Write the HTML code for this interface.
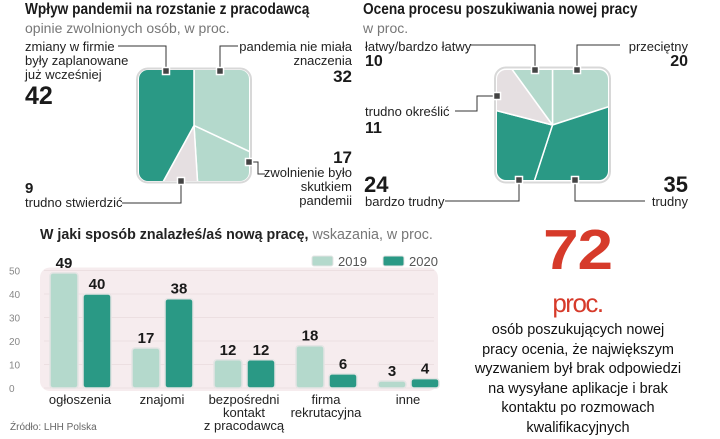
<!DOCTYPE html>
<html><head><meta charset="utf-8">
<style>
body{margin:0;width:720px;height:435px;background:#fff;overflow:hidden;font-family:"Liberation Sans",sans-serif;color:#222;position:relative}
.t{position:absolute;white-space:nowrap;line-height:1}
.h{font-weight:bold;font-size:16px;color:#1a1a1a;transform:scaleX(0.855);transform-origin:left top}
.s{font-size:14px;color:#777}
.l{font-size:13px;color:#222}
.n{font-weight:bold;color:#1a1a1a}
.r{text-align:right}
</style></head><body>
<div class="t h" style="left:25px;top:2px">Wpływ pandemii na rozstanie z pracodawcą</div>
<div class="t s" style="left:25px;top:21px">opinie zwolnionych osób, w proc.</div>
<div class="t h" style="left:363px;top:2px">Ocena procesu poszukiwania nowej pracy</div>
<div class="t s" style="left:363px;top:21px">w proc.</div>

<div class="t l" style="left:25px;top:40px;line-height:14px">zmiany w firmie<br>były zaplanowane<br>już wcześniej</div>
<div class="t n" style="left:25px;top:84px;font-size:25px">42</div>
<div class="t l r" style="right:368px;top:40px;line-height:14px">pandemia nie miała<br>znaczenia</div>
<div class="t n r" style="right:368px;top:68px;font-size:17px">32</div>
<div class="t n r" style="right:368px;top:149px;font-size:17px">17</div>
<div class="t l r" style="right:368px;top:166px;line-height:14px">zwolnienie było<br>skutkiem<br>pandemii</div>
<div class="t n" style="left:25px;top:181px;font-size:15px">9</div>
<div class="t l" style="left:25px;top:196px">trudno stwierdzić</div>

<div class="t l" style="left:365px;top:40px">łatwy/bardzo łatwy</div>
<div class="t n" style="left:365px;top:54px;font-size:16px">10</div>
<div class="t l r" style="right:32px;top:40px">przeciętny</div>
<div class="t n r" style="right:32px;top:54px;font-size:16px">20</div>
<div class="t l" style="left:365px;top:105px">trudno określić</div>
<div class="t n" style="left:365px;top:121px;font-size:16px">11</div>
<div class="t n" style="left:364px;top:174px;font-size:22px">24</div>
<div class="t l" style="left:365px;top:195px">bardzo trudny</div>
<div class="t n r" style="right:32px;top:174px;font-size:22px">35</div>
<div class="t l r" style="right:32px;top:195px">trudny</div>

<svg id="pies" width="720" height="220" style="position:absolute;left:0;top:0">
<defs>
<clipPath id="cl"><rect x="139" y="70" width="110" height="111" rx="9"/></clipPath>
<clipPath id="cr"><rect x="497" y="70" width="111" height="110" rx="9"/></clipPath>
</defs>
<g fill="none" stroke="#333" stroke-width="1">
<polyline points="118,46 166,46 166,71"/>
<polyline points="238,46 220,46 220,71"/>
<polyline points="249,162 258,162 258,174 265,174"/>
<polyline points="122,203 181,203 181,181"/>
<polyline points="470,45 535,45 535,70"/>
<polyline points="620,45 577,45 577,70"/>
<polyline points="455,111 477,111 477,96 497,96"/>
<polyline points="445,201 519,201 519,180"/>
<polyline points="645,201 575,201 575,180"/>
</g>
</svg>

<div class="t" style="left:40px;top:227px;font-size:15px;transform:scaleX(0.95);transform-origin:left top"><b>W jaki sposób znalazłeś/aś nową pracę,</b> <span style="color:#777">wskazania, w proc.</span></div>
<svg id="bars" width="470" height="215" style="position:absolute;left:0;top:220px"></svg>
<div class="t" style="left:10px;top:423px;font-size:10px;color:#666">Źródło: LHH Polska</div>

<div class="t" style="left:490px;top:222px;width:175px;text-align:center;font-weight:bold;font-size:57px;color:#d63a2a;letter-spacing:-1px;transform:scaleX(1.12)">72</div>
<div class="t" style="left:490px;top:290px;width:175px;text-align:center;font-size:26px;color:#d63a2a;letter-spacing:-1.5px">proc.</div>
<div class="t" style="left:468px;top:321px;width:220px;text-align:center;font-size:14.5px;line-height:19.6px;color:#111">osób poszukujących nowej<br>pracy ocenia, że największym<br>wyzwaniem był brak odpowiedzi<br>na wysyłane aplikacje i brak<br>kontaktu po rozmowach<br>kwalifikacyjnych</div>

<script>
const NS="http://www.w3.org/2000/svg";
// left pie data (clockwise from top)
const leftValues=[32,17,9,42];
const leftColors=["#b4d9cc","#b4d9cc","#e5dfe1","#2a9985"];
// right pie data (clockwise from top)
const rightValues=[20,35,24,11,10];
const rightColors=["#b4d9cc","#2a9985","#2a9985","#e5dfe1","#b4d9cc"];
// bar chart data
const categories=[["ogłoszenia"],["znajomi"],["bezpośredni","kontakt","z pracodawcą"],["firma","rekrutacyjna"],["inne"]];
const values2019=[49,17,12,18,3];
const values2020=[40,38,12,6,4];
const yTicks=[0,10,20,30,40,50];

function mk(tag,attrs){const e=document.createElementNS(NS,tag);for(const k in attrs)e.setAttribute(k,attrs[k]);return e;}
const pies=document.getElementById('pies');
function sqPoint(cx,cy,h,deg){const a=deg*Math.PI/180;const dx=Math.sin(a),dy=-Math.cos(a);const t=h/Math.max(Math.abs(dx),Math.abs(dy));return [cx+dx*t,cy+dy*t];}
function squarePie(vals,cols,cx,cy,h,clip,prefix){
  const bg=mk('rect',{x:cx-h-2,y:cy-h-2,width:2*h+4,height:2*h+4,rx:11,fill:"#fff",stroke:"#d8d8d8","stroke-width":2});
  
  
  pies.appendChild(bg);
  const g=mk('g',{'clip-path':'url(#'+clip+')'});
  pies.appendChild(g);
  const tot=vals.reduce((a,b)=>a+b,0);let acc=0;
  vals.forEach((v,i)=>{
    const a0=acc/tot*360,a1=(acc+v)/tot*360;acc+=v;
    const pts=[[cx,cy]];
    for(let d=a0;d<a1;d+=1)pts.push(sqPoint(cx,cy,h+20,d));
    pts.push(sqPoint(cx,cy,h+20,a1));
    const p=mk('polygon',{points:pts.map(p=>p.join(',')).join(' '),fill:cols[i],stroke:"#fff","stroke-width":1.5,"stroke-linejoin":"round"});
    
    
    g.appendChild(p);
  });
}
squarePie(leftValues,leftColors,194,125.5,55,'cl','left-pie');
squarePie(rightValues,rightColors,552.5,125,55.5,'cr','right-pie');
[[166,71],[220,71],[249,162],[181,181],[535,70],[577,70],[497,96],[519,180],[575,180]].forEach(([x,y])=>{
  const m=mk('rect',{x:x-3.5,y:y-3.5,width:7,height:7,fill:"#444",stroke:"#fff","stroke-width":1.5});
  
  
  pies.appendChild(m);
});

const bars=document.getElementById('bars');
const OY=220, y0=388-OY, k=2.35;
function Y(v){return y0-v*k;}
function X(i){return 50+i*82;}
const bgR=mk('rect',{x:40,y:Y(50)-3,width:398,height:y0-Y(50)+6,rx:10,fill:"#f6ecee"});


bars.appendChild(bgR);
yTicks.forEach(t=>{
  const ln=mk('line',{x1:44,x2:434,y1:Y(t),y2:Y(t),stroke:"#ecdfe1","stroke-width":1});
  
  
  bars.appendChild(ln);
  const tx=mk('text',{x:9,y:Y(t)+4,'font-size':10,fill:"#888",'font-family':"Liberation Sans, sans-serif"});
  tx.textContent=t;
  
  
  bars.appendChild(tx);
});
function bar(x,v,col,name){
  const r=mk('rect',{x:x,y:Y(v),width:28,height:Math.max(v*k,2),rx:3,fill:col,stroke:"#e4e4e4","stroke-width":1.5});
  
  
  bars.appendChild(r);
  const t=mk('text',{x:x+14,y:Y(v)-5,'text-anchor':'middle','font-size':15,'font-weight':'bold',fill:"#1a1a1a",'font-family':"Liberation Sans, sans-serif"});
  t.textContent=v;
  
  
  bars.appendChild(t);
}
categories.forEach((c,i)=>{
  bar(X(i),values2019[i],"#b4d9cc",'bar-2019-'+i);
  bar(X(i)+33,values2020[i],"#2a9985",'bar-2020-'+i);
  c.forEach((line,j)=>{
    const t=mk('text',{x:X(i)+30,y:y0+16+j*13,'text-anchor':'middle','font-size':13,fill:"#222",'font-family':"Liberation Sans, sans-serif"});
    t.textContent=line;
    
    
    bars.appendChild(t);
  });
});
[[312,"#b4d9cc","2019"],[383,"#2a9985","2020"]].forEach(([x,c,l])=>{
  const r=mk('rect',{x:x,y:36,width:21,height:10,rx:2,fill:c,stroke:"#e4e4e4"});
  
  
  bars.appendChild(r);
  const t=mk('text',{x:x+26,y:46,'font-size':13,fill:"#555",'font-family':"Liberation Sans, sans-serif"});
  t.textContent=l;
  
  
  bars.appendChild(t);
});
</script>
</body></html>
